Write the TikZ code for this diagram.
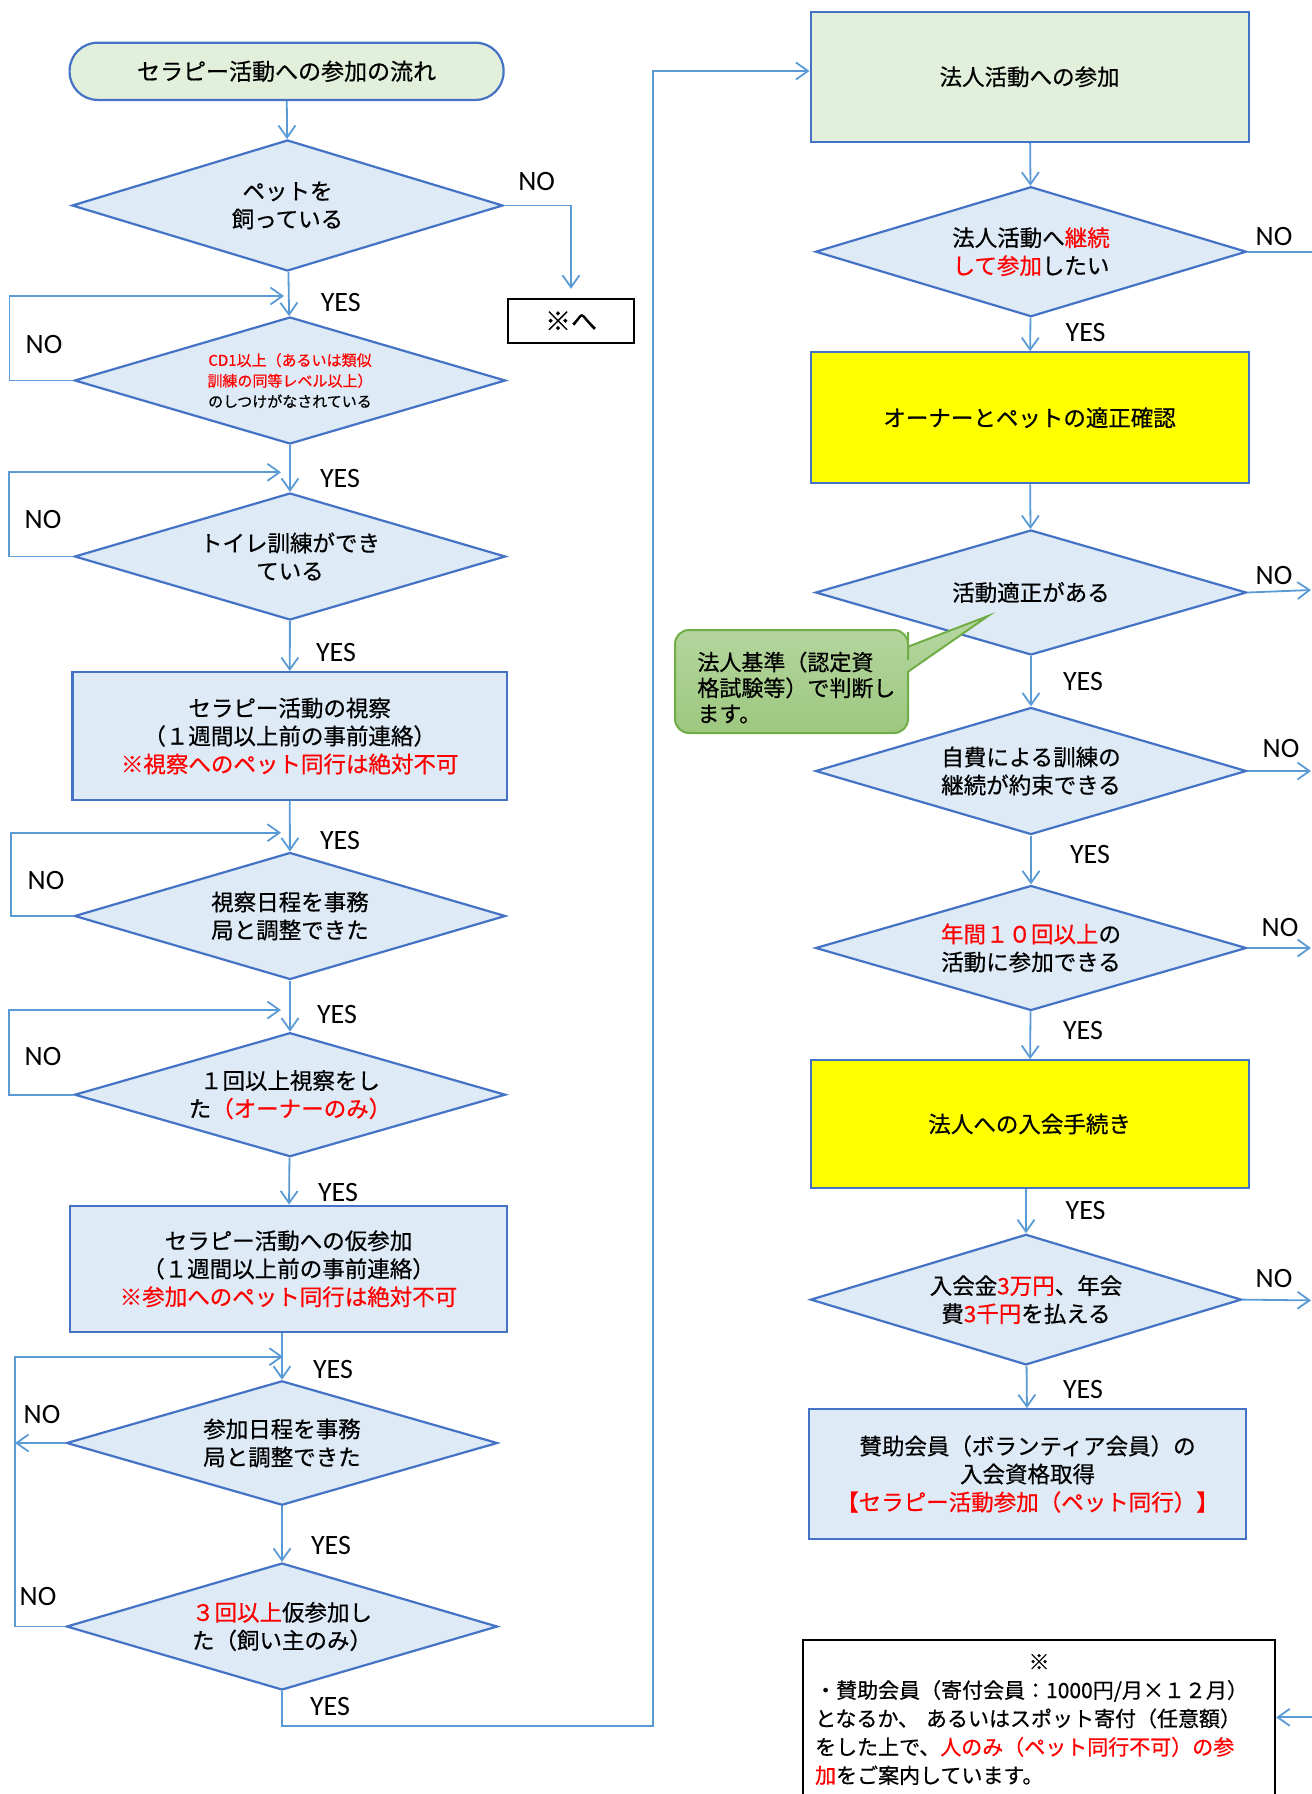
\documentclass[tikz,border=0pt]{standalone}
\usepackage{fontspec}
\setmainfont{Noto Sans CJK JP}[FakeBold=0.6]
\newfontfamily\yesnofont{Carlito}
\usetikzlibrary{arrows.meta,shapes.geometric}
\definecolor{lineblue}{RGB}{91,155,213}
\definecolor{edgeblue}{RGB}{68,114,196}
\definecolor{paleblue}{RGB}{222,235,247}
\definecolor{palegreen}{RGB}{226,239,218}
\definecolor{keyyellow}{RGB}{255,255,0}
\definecolor{notegreen}{RGB}{112,173,71}
\definecolor{calltop}{RGB}{183,215,162}
\definecolor{callbot}{RGB}{157,200,127}
\newcommand{\redtxt}[1]{\textcolor{red}{#1}}

\begin{document}
\begin{tikzpicture}[
  x=0.5pt, y=-0.5pt,
  >={Straight Barb[length=6pt,width=8.5pt]},
  every node/.style={font=\fontsize{11.25}{14}\selectfont, text=black},
  startbox/.style={rectangle, rounded corners=14pt, draw=edgeblue, line width=1.1pt, fill=palegreen, minimum width=217pt, minimum height=28.6pt, font=\fontsize{11.5}{14}\selectfont},
  decision/.style={diamond, draw=edgeblue, line width=1.1pt, fill=paleblue, aspect=3.4, inner sep=0pt, minimum width=215.5pt, minimum height=63.5pt, align=center},
  procbox/.style={rectangle, draw=edgeblue, line width=1.1pt, fill=paleblue, minimum width=218pt, minimum height=64pt, inner sep=0pt, align=center},
  actbox/.style={procbox, fill=palegreen, minimum width=219pt, minimum height=65pt},
  keybox/.style={procbox, fill=keyyellow, minimum width=219pt, minimum height=65pt},
  gotobox/.style={rectangle, draw=black, line width=1.2pt, fill=white, minimum width=63pt, minimum height=22pt, inner sep=0pt, font=\fontsize{13}{15}\selectfont},
  notebox/.style={rectangle, draw=black, line width=1.1pt, anchor=north west, align=left, text width=224pt, inner xsep=6pt, inner ysep=7pt, text depth=80pt, font=\fontsize{10.5}{14.2}\selectfont},
  yeslbl/.style={font=\yesnofont\fontsize{14}{16}\selectfont},
  flow/.style={->, draw=lineblue, line width=0.9pt},
  flowline/.style={draw=lineblue, line width=0.9pt},
]
\useasboundingbox (0,0) rectangle (1312,1794);
\clip (0,0) rectangle (1312,1794);

% ---- left column ----
\node[startbox] (start) at (286.6, 71.3) {セラピー活動への参加の流れ};
\node[decision, minimum height=65.5pt] (q1) at (287.5, 205.5) {ペットを\\飼っている};
\node[gotobox] (gonote) at (571, 321) {※へ};
\node[decision, font=\fontsize{7.5}{10.3}\selectfont] (q2) at (290, 380.5)
  {\redtxt{CD1以上（あるいは類似}\\\redtxt{訓練の同等レベル以上）}\\のしつけがなされている};
\node[decision] (q3) at (290, 556.5) {トイレ訓練ができ\\ている};
\node[procbox, minimum width=217.3pt, minimum height=63.9pt] (visit) at (289.7, 736)
  {セラピー活動の視察\\（１週間以上前の事前連絡）\\\redtxt{※視察へのペット同行は絶対不可}};
\node[decision] (q4) at (290, 916) {視察日程を事務\\局と調整できた};
\node[decision, minimum height=62pt] (q5) at (290, 1094.7) {１回以上視察をし\\た\redtxt{（オーナーのみ）}};
\node[procbox, minimum width=218.5pt, minimum height=63.2pt] (trial) at (288.5, 1268.8)
  {セラピー活動への仮参加\\（１週間以上前の事前連絡）\\\redtxt{※参加へのペット同行は絶対不可}};
\node[decision, minimum height=62.2pt] (q6) at (282, 1443) {参加日程を事務\\局と調整できた};
\node[decision] (q7) at (282, 1626.5) {\redtxt{３回以上}仮参加し\\た（飼い主のみ）};

% ---- right column ----
\node[actbox] (join) at (1029.6, 76.8) {法人活動への参加};
\node[decision, minimum height=65pt] (q8) at (1031, 251.7) {法人活動へ\redtxt{継続}\\\redtxt{して参加}したい};
\node[keybox, minimum height=65.5pt] (check) at (1029.6, 417.8) {オーナーとペットの適正確認};
\node[decision, minimum height=62.5pt] (q9) at (1031, 592.5) {活動適正がある};
\node[decision] (q10) at (1031, 771) {自費による訓練の\\継続が約束できる};
\node[decision, minimum height=62.5pt] (q11) at (1031, 948) {\redtxt{年間１０回以上}の\\活動に参加できる};
\node[keybox, minimum height=63.75pt] (entry) at (1029.6, 1124) {法人への入会手続き};
\node[decision, minimum height=65.3pt] (q12) at (1026, 1299.6) {入会金\redtxt{3万円}、年会\\費\redtxt{3千円}を払える};
\node[procbox, minimum width=218.2pt, minimum height=64.8pt] (member) at (1027.5, 1474)
  {賛助会員（ボランティア会員）の\\入会資格取得\\\redtxt{【セラピー活動参加（ペット同行）】}};

% ---- callout ----
\draw[draw=notegreen, line width=1pt, top color=calltop, bottom color=callbot]
  (908,700) [rounded corners=7pt] -- (908,733) -- (675,733) -- (675,630) -- (908,630) -- (908,646)
  [sharp corners] -- (908,646.7) -- (988,616) -- (908,671.7) -- cycle;
\node[anchor=west, align=left, inner sep=0pt, font=\fontsize{11}{12.9}\selectfont] (judge) at (697, 687.5)
  {法人基準（認定資\\格試験等）で判断し\\ます。};

% ---- note ----
\node[notebox] (note) at (802, 1639) {%
  \makebox[\linewidth]{※}\\
  ・賛助会員（寄付会員：1000円/月×１２月）\\
  となるか、~あるいはスポット寄付（任意額）\\
  をした上で、\redtxt{人のみ（ペット同行不可）の参}\\
  \redtxt{加}をご案内しています。};

% ---- YES / NO labels ----
\node[yeslbl] (n1)  at (536.6, 181.7) {NO};
\node[yeslbl] (y1)  at (340.8, 303)   {YES};
\node[yeslbl] (n2)  at (44, 345)      {NO};
\node[yeslbl] (y2)  at (340, 479)     {YES};
\node[yeslbl] (n3)  at (43, 520)      {NO};
\node[yeslbl] (y3)  at (336, 653)     {YES};
\node[yeslbl] (y4)  at (340, 840.7)   {YES};
\node[yeslbl] (n4)  at (46, 880)      {NO};
\node[yeslbl] (y5)  at (337, 1014)    {YES};
\node[yeslbl] (n5)  at (43, 1056.7)   {NO};
\node[yeslbl] (y6)  at (338, 1192)    {YES};
\node[yeslbl] (y7)  at (333, 1369.3)  {YES};
\node[yeslbl] (n6)  at (42, 1414)     {NO};
\node[yeslbl] (y8)  at (331, 1545)    {YES};
\node[yeslbl] (n7)  at (38, 1596.7)   {NO};
\node[yeslbl] (y9)  at (330, 1706.7)  {YES};
\node[yeslbl] (n8)  at (1274, 236.7)  {NO};
\node[yeslbl] (y10) at (1085.6, 333)  {YES};
\node[yeslbl] (n9)  at (1274, 575.7)  {NO};
\node[yeslbl] (y11) at (1083, 681.8)  {YES};
\node[yeslbl] (n10) at (1281, 748.6)  {NO};
\node[yeslbl] (y12) at (1090, 854.3)  {YES};
\node[yeslbl] (n11) at (1280, 927)    {NO};
\node[yeslbl] (y13) at (1083, 1030)   {YES};
\node[yeslbl] (y14) at (1085.6, 1210.4) {YES};
\node[yeslbl] (n12) at (1274, 1278.2) {NO};
\node[yeslbl] (y15) at (1083, 1389)   {YES};

% ---- junctions and edge points ----
\coordinate (j2) at (284, 296);
\coordinate (j3) at (281, 472.3);
\coordinate (j4) at (281, 832.7);
\coordinate (j5) at (281, 1010);
\coordinate (j7) at (283, 1356.7);
\coordinate (lx7) at (15, 1626.5);
\coordinate (busB) at (653, 1725.7);
\coordinate (busT) at (653, 71);
\coordinate (e8) at (1314, 251.7);
\coordinate (e9) at (1311, 590);
\coordinate (e10) at (1311, 771);
\coordinate (e11) at (1311, 948);
\coordinate (e12) at (1311, 1300.4);
\coordinate (e13) at (1314, 1717.3);

% ---- edges: left column ----
\draw[flow] (start) -- (q1);
\draw[flow] (q1) -- (q2);
\draw[flow] (q2) -- (q3);
\draw[flow] (q3) -- (visit);
\draw[flow] (visit) -- (q4);
\draw[flow] (q4) -- (q5);
\draw[flow] (q5) -- (trial);
\draw[flow] (q6.north |- trial.south) -- (q6.north);
\draw[flow] (q6) -- (q7);
\draw[flow, shorten >=4.5pt] (q1.east) -| (gonote.north);
\draw[flow] (q2.west) -- ++(-64,0) |- (j2);
\draw[flow] (q3.west) -- ++(-64.5,0) |- (j3);
\draw[flow] (q4.west) -- ++(-62.4,0) |- (j4);
\draw[flow] (q5.west) -- ++(-64.5,0) |- (j5);
\draw[flow] (q7.west) -- (lx7) |- (j7);
\draw[flow] (q6.west) -- (q6.west -| lx7);
\draw[flow] (q7.south) |- (busB) -- (busT) -- (busT -| join.west);

% ---- edges: right column ----
\draw[flow] (join) -- (q8);
\draw[flow] (q8) -- (check);
\draw[flow] (check) -- (q9);
\draw[flow] (q9) -- (q10);
\draw[flow] (q10) -- (q11);
\draw[flow] (q11) -- (entry);
\draw[flow] (q12.north |- entry.south) -- (q12.north);
\draw[flow] (q12) -- (member);
\draw[flowline] (q8.east) -- (e8);
\draw[flow] (q9.east) -- (e9);
\draw[flow] (q10.east) -- (e10);
\draw[flow] (q11.east) -- (e11);
\draw[flow] (q12.east) -- (e12);
\draw[flow] (e13) -- (e13 -| note.east);

\end{tikzpicture}
\end{document}
